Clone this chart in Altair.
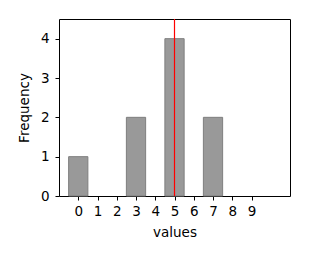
import altair as alt
import pandas as pd

values = [0, 3, 5, 7]
counts = [1, 2, 4, 2]
line_at = [5]
x_ticks = list(range(10))
y_ticks = [0, 1, 2, 3, 4]

df = pd.DataFrame({
    "lo": [v - 0.5 for v in values],
    "hi": [v + 0.5 for v in values],
    "base": [0] * len(values),
    "count": counts,
})
line_df = pd.DataFrame({"x": line_at})

FONT = "DejaVu Sans"

xscale = alt.Scale(domain=[-1, 11], nice=False, zero=False)
yscale = alt.Scale(domain=[0, 4.5], nice=False)
xaxis = alt.Axis(values=x_ticks, title="values", format="d",
                 labelOverlap=False, labelFlush=False)

bars = alt.Chart(df).mark_rect(
    fill="#999999", stroke="#7f7f7f", strokeWidth=1
).encode(
    x=alt.X("lo:Q", scale=xscale, axis=xaxis),
    x2="hi:Q",
    y=alt.Y("count:Q", scale=yscale,
            axis=alt.Axis(values=y_ticks, title="Frequency", format="d",
                          labelOverlap=False, labelFlush=False)),
    y2="base:Q",
)

rule = alt.Chart(line_df).mark_rule(color="red", strokeWidth=1.2).encode(
    x=alt.X("x:Q", scale=xscale, axis=xaxis),
)

chart = alt.layer(bars, rule).properties(
    width=231, height=177,
    autosize=alt.AutoSizeParams(type="none"),
    padding={"left": 59, "top": 19, "right": 19, "bottom": 63},
).configure_view(
    stroke="black", strokeWidth=1
).configure_axis(
    domain=False, grid=False, labelOverlap=False,
    tickColor="black", tickSize=4, tickWidth=1,
    labelFont=FONT, labelFontSize=13.5, labelColor="black",
    titleFont=FONT, titleFontSize=13.5, titleColor="black", titleFontWeight="normal",
).configure_axisX(
    labelPadding=4, titlePadding=8,
).configure_axisY(
    labelPadding=6, titlePadding=9,
)

chart.save("out.html", embed_options={"renderer": "svg", "actions": False})
